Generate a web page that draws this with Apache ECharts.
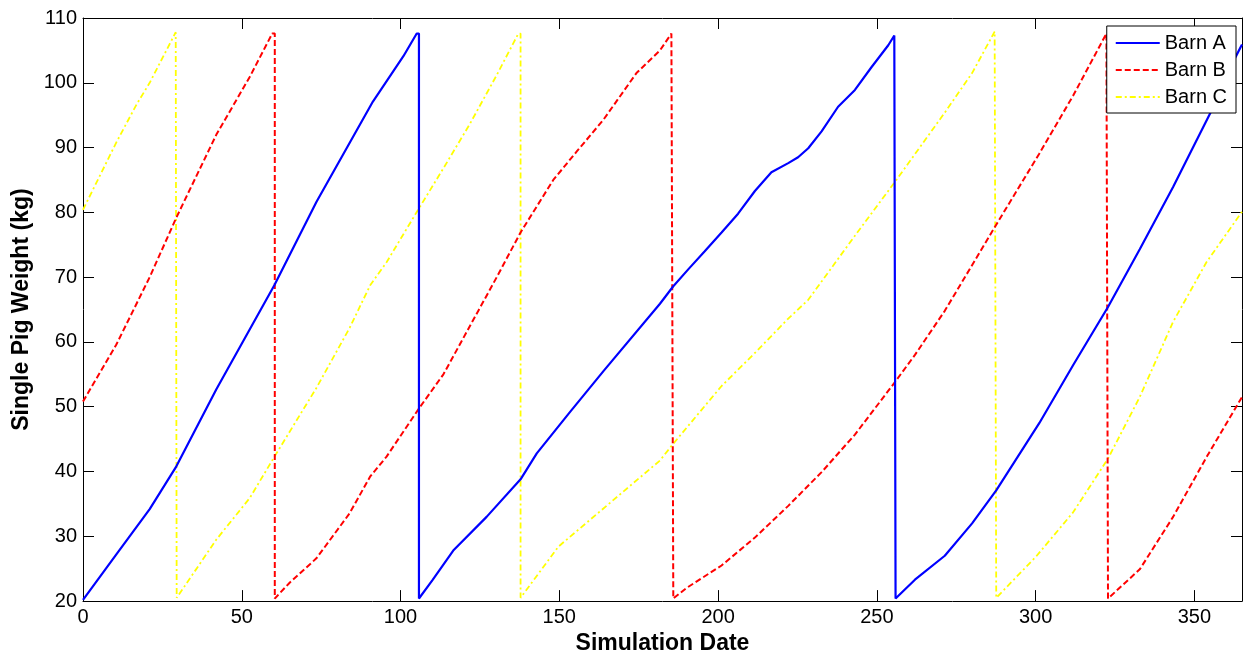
<!DOCTYPE html>
<html>
<head>
<meta charset="utf-8">
<script src="https://cdn.jsdelivr.net/npm/echarts@6/dist/echarts.min.js"></script>
<style>
  html, body { margin: 0; padding: 0; background: #fff; }
  #chart1 { width: 1244px; height: 660px; }
</style>
</head>
<body>
<div id="chart1"></div>
<script>
// day of simulation / weight in kg
var barnADays = [0, 10.5, 21, 29.4, 42, 60.3, 73.5, 91.3, 100.9, 105.1, 105.8, 105.8,
    110, 116.6, 127.1, 137.8, 142.9, 153.4, 163.9, 181.7, 185.9, 190.6, 195.8, 201.1, 206.3, 211.6, 216.8,
    222.1, 225.2, 228.4, 232.6, 237.8, 243.1, 248.3, 253.6, 255.5, 255.9, 255.9,
    262, 271.4, 280, 287.6, 301.2, 311.8, 322.8, 332.8, 343.3, 355.5, 363, 365];
var barnAWeights = [20.2, 27.2, 34.2, 40.8, 52.7, 68.8, 81.6, 97.1, 104.1, 107.6, 107.6, 20.4,
    23.2, 27.8, 33.0, 38.8, 42.8, 49.2, 55.5, 65.9, 68.6, 71.2, 74.0, 76.9, 79.8, 83.3, 86.2,
    87.6, 88.5, 89.9, 92.5, 96.3, 98.9, 102.4, 105.8, 107.3, 107.3, 20.4,
    23.3, 27.0, 32.0, 37.1, 47.5, 56.4, 65.4, 74.3, 83.9, 95.8, 104.0, 105.9];

var barnBDays = [0, 10.5, 21, 29.4, 42, 52.5, 59.6, 60.4, 60.4,
    65, 73.5, 83.9, 90.4, 95.6, 105.9, 113.5, 121.9, 130.3, 137.8, 148.1, 155.5, 163.9, 174.3, 181.7, 185.3, 185.9, 185.9,
    190, 201.1, 211.6, 222.1, 232.6, 243.1, 255.7, 262, 271.4, 287.6, 301.2, 311.8, 322.3, 322.8, 322.8,
    332.8, 343.3, 353.8, 365];
var barnBWeights = [50.8, 59.6, 70.0, 79.2, 92.0, 100.9, 107.6, 107.6, 20.4,
    22.8, 26.6, 33.5, 39.2, 42.3, 49.8, 55.0, 62.5, 70.0, 76.9, 85.0, 89.4, 94.3, 101.5, 105.0, 107.6, 107.6, 20.4,
    22.0, 25.5, 29.8, 34.7, 39.9, 45.7, 53.8, 58.0, 64.8, 78.1, 89.1, 98.0, 107.6, 107.6, 20.4,
    24.9, 33.0, 42.2, 51.5];

var barnCDays = [0, 10.5, 16.8, 21, 29.2, 29.5, 29.5,
    42, 52.5, 60.3, 73.5, 84, 90.5, 95.6, 105.9, 113.5, 121.9, 130.3, 137.1, 137.8, 137.8,
    149.7, 163.9, 181.7, 185.9, 201.1, 212, 222.1, 228.4, 243.1, 255.7, 271.4, 280, 287.1, 287.6, 287.6,
    300.2, 311.8, 322.8, 332.8, 343.3, 353.8, 365];
var barnCWeights = [80.4, 90.8, 96.6, 100.0, 107.8, 107.8, 20.5,
    29.5, 35.9, 42.3, 52.9, 62.2, 68.8, 72.3, 80.7, 86.8, 93.7, 101.2, 107.6, 107.6, 20.5,
    28.4, 34.3, 41.7, 44.3, 53.2, 58.5, 63.6, 66.5, 76.4, 84.7, 95.4, 101.5, 107.9, 107.9, 20.5,
    26.9, 33.7, 42.0, 51.5, 63.1, 72.3, 80.1];

var xTicks = { min: 0, max: 365, interval: 50 };
var yTicks = { min: 20, max: 110, interval: 10 };

function zip(xs, ys) {
    var out = [];
    for (var i = 0; i < xs.length; i++) out.push([xs[i], ys[i]]);
    return out;
}

var font = 'Liberation Sans, Arial, sans-serif';
// box axes: lines stay on the grid edges, ticks point inwards like matlab
var line = { show: true, onZero: false, lineStyle: { color: '#000', width: 1 } };
var tick = { show: true, inside: true, length: 11, lineStyle: { color: '#000', width: 1 } };

var myChart = echarts.init(document.getElementById('chart1'));
myChart.setOption({
    animation: false,
    backgroundColor: '#fff',
    grid: { left: 83, right: 2, top: 18, bottom: 56 },
    legend: {
        orient: 'vertical',
        right: 8,
        top: 26,
        padding: [7, 9, 6, 8],
        itemWidth: 44,
        itemHeight: 20,
        itemGap: 7,
        backgroundColor: '#fff',
        borderColor: '#000',
        borderWidth: 1,
        borderRadius: 0,
        itemStyle: { opacity: 0 },
        textStyle: { fontSize: 20, color: '#000', fontFamily: font },
        data: ['Barn A', 'Barn B', 'Barn C']
    },
    xAxis: [
        {
            type: 'value', min: xTicks.min, max: xTicks.max, interval: xTicks.interval,
            name: 'Simulation Date', nameLocation: 'middle', nameGap: 27,
            nameTextStyle: { fontSize: 23, fontWeight: 'bold', color: '#000', fontFamily: font },
            axisLine: line, axisTick: tick, splitLine: { show: false },
            axisLabel: { fontSize: 20, color: '#000', margin: 6, fontFamily: font, showMaxLabel: false }
        },
        {
            type: 'value', position: 'top', min: xTicks.min, max: xTicks.max, interval: xTicks.interval,
            axisLine: line, axisTick: tick, splitLine: { show: false }, axisLabel: { show: false }
        }
    ],
    yAxis: [
        {
            type: 'value', min: yTicks.min, max: yTicks.max, interval: yTicks.interval,
            name: 'Single Pig Weight (kg)', nameLocation: 'middle', nameGap: 49,
            nameTextStyle: { fontSize: 23, fontWeight: 'bold', color: '#000', fontFamily: font },
            axisLine: line, axisTick: tick, splitLine: { show: false },
            axisLabel: { fontSize: 20, color: '#000', margin: 6, fontFamily: font }
        },
        {
            type: 'value', position: 'right', min: yTicks.min, max: yTicks.max, interval: yTicks.interval,
            axisLine: line, axisTick: tick, splitLine: { show: false }, axisLabel: { show: false }
        }
    ],
    series: [
        {
            name: 'Barn A', type: 'line', symbol: 'none', z: 3,
            itemStyle: { color: '#0000ff' },
            lineStyle: { color: '#0000ff', width: 2.2, type: 'solid' },
            data: zip(barnADays, barnAWeights)
        },
        {
            name: 'Barn B', type: 'line', symbol: 'none', z: 2,
            itemStyle: { color: '#ff0000' },
            lineStyle: { color: '#ff0000', width: 2, type: [6, 3] },
            data: zip(barnBDays, barnBWeights)
        },
        {
            name: 'Barn C', type: 'line', symbol: 'none', z: 1,
            itemStyle: { color: '#ffff00' },
            lineStyle: { color: '#ffff00', width: 1.8, type: [6, 3, 2, 3] },
            data: zip(barnCDays, barnCWeights)
        }
    ]
});
</script>
</body>
</html>
